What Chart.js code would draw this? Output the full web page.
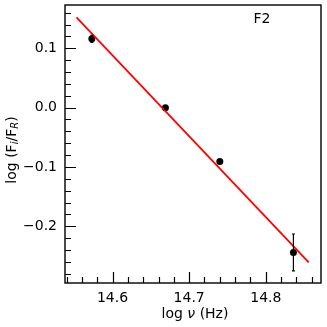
<!DOCTYPE html>
<html>
<head>
<meta charset="utf-8">
<script src="https://cdn.jsdelivr.net/npm/chart.js@4/dist/chart.umd.min.js"></script>
<style>
html,body{margin:0;padding:0;background:#fff;}
#wrap{width:327px;height:327px;position:relative;}
</style>
</head>
<body>
<div id="wrap"><canvas id="c"></canvas></div>
<script>
// data
const logNu = [14.573, 14.669, 14.740, 14.836];
const logRatio = [0.116, 0.000, -0.091, -0.244];
const ratioErr = [0.006, 0.003, 0.003, 0.031];
const fitX = [14.553, 14.856];
const fitY = [0.152, -0.261];
const xRange = [14.538, 14.872];
const yRange = [-0.2956, 0.173];
const tickStep = 0.02;
const panelLabel = 'F2';

const FONT = '"DejaVu Sans", sans-serif';

function isMajor(v){ return Math.abs(v*10 - Math.round(v*10)) < 1e-6; }
function fmt(v){
  if (Math.abs(v) < 1e-9) return '0.0';
  const s = v.toFixed(1);
  return s.replace('-', '\u2212');
}

const framePlugin = {
  id: 'frame',
  afterDatasetsDraw(chart){
    const ctx = chart.ctx;
    const xs = chart.scales.x, ys = chart.scales.y;
    ctx.save();
    ctx.strokeStyle = '#000';
    ctx.lineWidth = 1.2;
    for (let i = 0; i < logNu.length; i++){
      const px = xs.getPixelForValue(logNu[i]);
      const y1 = ys.getPixelForValue(logRatio[i] + ratioErr[i]);
      const y2 = ys.getPixelForValue(logRatio[i] - ratioErr[i]);
      ctx.beginPath();
      ctx.moveTo(px, y1); ctx.lineTo(px, y2);
      ctx.moveTo(px-1.5, y1); ctx.lineTo(px+1.5, y1);
      ctx.moveTo(px-1.5, y2); ctx.lineTo(px+1.5, y2);
      ctx.stroke();
    }
    ctx.restore();
  },
  afterDraw(chart){
    const ctx = chart.ctx;
    const a = chart.chartArea;
    const xs = chart.scales.x, ys = chart.scales.y;
    ctx.save();
    ctx.strokeStyle = '#000';
    ctx.lineWidth = 1.2;
    ctx.beginPath();
    xs.ticks.forEach(t => {
      const p = Math.round(xs.getPixelForValue(t.value)) + 0.5;
      const len = isMajor(t.value) ? 11 : 6;
      ctx.moveTo(p, a.bottom); ctx.lineTo(p, a.bottom - len);
    });
    ys.ticks.forEach(t => {
      const p = Math.round(ys.getPixelForValue(t.value)) + 0.5;
      const len = isMajor(t.value) ? 11 : 6;
      ctx.moveTo(a.left, p); ctx.lineTo(a.left + len, p);
    });
    ctx.stroke();
    ctx.lineWidth = 1.4;
    ctx.strokeRect(a.left, a.top, a.right - a.left, a.bottom - a.top);

    ctx.fillStyle = '#000';
    ctx.font = '14px ' + FONT;
    ctx.textAlign = 'center';
    ctx.textBaseline = 'middle';
    ctx.fillText(panelLabel, 262, 19);

    const cx = (a.left + a.right) / 2 + 2;
    const ty = 314;
    const p1 = 'log ', p2 = '\u03bd', p3 = ' (Hz)';
    ctx.font = '14px ' + FONT;
    const w1 = ctx.measureText(p1).width, w3 = ctx.measureText(p3).width;
    ctx.font = 'italic 14px ' + FONT;
    const w2 = ctx.measureText(p2).width;
    let x0 = cx - (w1 + w2 + w3) / 2;
    ctx.textAlign = 'left';
    ctx.font = '14px ' + FONT;
    ctx.fillText(p1, x0, ty);
    ctx.font = 'italic 14px ' + FONT;
    ctx.fillText(p2, x0 + w1, ty);
    ctx.font = '14px ' + FONT;
    ctx.fillText(p3, x0 + w1 + w2, ty);

    ctx.translate(12, 150);
    ctx.rotate(-Math.PI / 2);
    const parts = [
      {t:'log (F', f:'14px ', dy:0},
      {t:'i', f:'italic 10px ', dy:3},
      {t:'/F', f:'14px ', dy:0},
      {t:'R', f:'italic 10px ', dy:3},
      {t:')', f:'14px ', dy:0}
    ];
    let tw = 0;
    parts.forEach(p => { ctx.font = p.f + FONT; p.w = ctx.measureText(p.t).width; tw += p.w; });
    let xx = -tw / 2;
    ctx.textBaseline = 'middle';
    parts.forEach(p => {
      ctx.font = p.f + FONT;
      ctx.fillText(p.t, xx, p.dy);
      xx += p.w;
    });
    ctx.restore();
  }
};

new Chart(document.getElementById('c'), {
  type: 'scatter',
  data: {
    datasets: [
      {
        type: 'line',
        data: fitX.map((x, i) => ({x, y: fitY[i]})),
        borderColor: '#ff0000',
        borderWidth: 1.8,
        pointRadius: 0,
        fill: false,
        order: 0
      },
      {
        data: logNu.map((x, i) => ({x, y: logRatio[i]})),
        backgroundColor: '#000',
        borderColor: '#000',
        pointRadius: 3.5,
        pointBorderWidth: 0,
        order: 1
      }
    ]
  },
  options: {
    responsive: true,
    maintainAspectRatio: false,
    animation: false,
    devicePixelRatio: 1,
    layout: {padding: {left: 0, right: 6, top: 5, bottom: 0}},
    plugins: {legend: {display: false}, tooltip: {enabled: false}},
    scales: {
      x: {
        type: 'linear',
        min: xRange[0], max: xRange[1],
        grid: {display: false, drawTicks: false},
        border: {display: false},
        afterFit(s){ s.height = 44; s.paddingLeft = 0; s.paddingRight = 0; },
        ticks: {
          stepSize: tickStep,
          includeBounds: false,
          autoSkip: false,
          maxRotation: 0,
          padding: 7,
          color: '#000',
          font: {family: FONT, size: 14},
          callback: v => isMajor(v) ? fmt(v) : ''
        }
      },
      y: {
        type: 'linear',
        min: yRange[0], max: yRange[1],
        grid: {display: false, drawTicks: false},
        border: {display: false},
        afterFit(s){ s.width = 65; s.paddingTop = 0; s.paddingBottom = 0; },
        ticks: {
          stepSize: tickStep,
          includeBounds: false,
          autoSkip: false,
          padding: 8,
          color: '#000',
          font: {family: FONT, size: 14},
          callback: v => isMajor(v) ? fmt(v) : ''
        }
      }
    }
  },
  plugins: [framePlugin]
});
</script>
</body>
</html>
